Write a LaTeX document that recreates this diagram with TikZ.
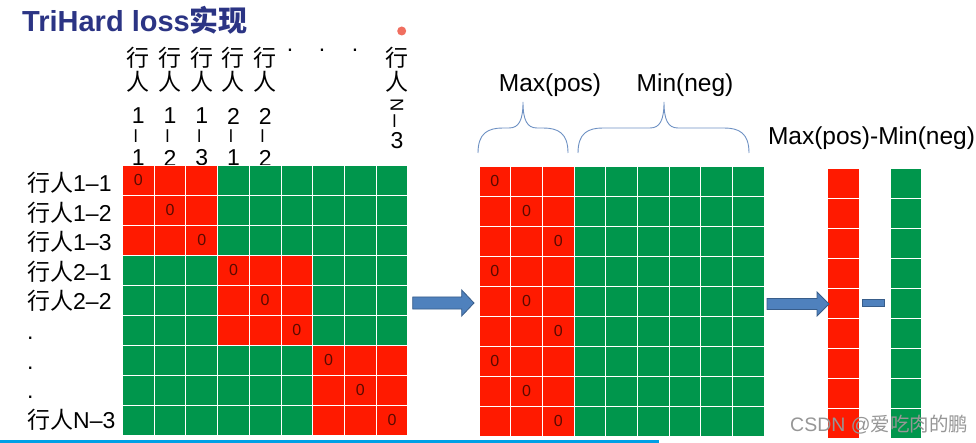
\documentclass[tikz,border=0pt]{standalone}
\usepackage{fontspec}
\setmainfont{Liberation Sans}
\newfontfamily\cjk{Noto Sans CJK SC}
\usetikzlibrary{matrix,backgrounds,positioning}

\definecolor{cellred}{RGB}{255,26,0}
\definecolor{cellgreen}{RGB}{0,150,76}
\definecolor{zerotxt}{RGB}{90,10,0}
\definecolor{titleblue}{RGB}{43,52,132}
\definecolor{arrowblue}{RGB}{79,129,189}
\definecolor{arrowedge}{RGB}{56,93,138}
\definecolor{bracecol}{RGB}{110,145,195}
\definecolor{dotred}{RGB}{240,110,95}
\definecolor{rulecyan}{RGB}{0,160,230}
\definecolor{markgray}{RGB}{150,150,150}

\begin{document}
\begin{tikzpicture}[x=1pt,y=-1pt,
  cellbox/.style={draw=white,line width=1pt,fill=cellgreen,anchor=center,
    minimum width=31.7pt,minimum height=30pt,inner sep=0pt,outer sep=0pt,
    text=zerotxt,font=\fontsize{16}{19}\selectfont},
  posc/.style={fill=cellred},
  cellgrid/.style={matrix of nodes,nodes in empty cells,column sep=-1pt,
    row sep=-1pt,inner sep=0pt,outer sep=0pt,anchor=north west,nodes={cellbox}},
  rowlab/.style={anchor=base west,inner sep=0pt,font=\fontsize{23}{27}\selectfont},
  collab/.style={inner sep=0pt,font=\fontsize{23}{27}\selectfont},
  headtxt/.style={anchor=base,inner sep=0pt,font=\fontsize{24.5}{29}\selectfont},
  blockarrow/.style={fill=arrowblue,draw=arrowedge,line width=0.8pt},
  curly/.style={draw=bracecol,line width=0.9pt}]
\useasboundingbox (0,0) rectangle (976,443);

\node (title) [anchor=base west,inner sep=0pt,text=titleblue,
  font=\fontsize{29}{33}\selectfont\bfseries] at (22,31.7) {TriHard loss{\cjk 实现}};
\fill[dotred] (401.7,31) circle (4.5);

% pairwise distance matrix
\matrix (A) [cellgrid] at (122,164.5)
{
 |[posc]|0 & |[posc]| & |[posc]| & & & & & & \\
 |[posc]| & |[posc]|0 & |[posc]| & & & & & & \\
 |[posc]| & |[posc]| & |[posc]|0 & & & & & & \\
 & & & |[posc]|0 & |[posc]| & |[posc]| & & & \\
 & & & |[posc]| & |[posc]|0 & |[posc]| & & & \\
 & & & |[posc]| & |[posc]| & |[posc]|0 & & & \\
 & & & & & & |[posc]|0 & |[posc]| & |[posc]| \\
 & & & & & & |[posc]| & |[posc]|0 & |[posc]| \\
 & & & & & & |[posc]| & |[posc]| & |[posc]|0 \\
};

\begin{scope}[on background layer]
\foreach \j/\a/\b in {1/1/1,2/1/2,3/1/3,4/2/1,5/2/2}{
  \node (t\j) [collab] at (A-1-\j |- 0,58) {\cjk 行};
  \node (p\j) [collab] at (A-1-\j |- 0,82) {\cjk 人};
  \node (g\j) [collab] at (A-1-\j |- 0,116) {\a};
  \node (d\j) [collab,rotate=90] at (A-1-\j |- 0,136) {--};
  \node (m\j) [collab] at (A-1-\j |- 0,158) {\b};
}
\node (t9) [collab,xshift=5pt] at (A-1-9 |- 0,58) {\cjk 行};
\node (p9) [collab,xshift=5pt] at (A-1-9 |- 0,82) {\cjk 人};
\node (g9) [collab,xshift=5pt,rotate=-90,scale=0.8] at (A-1-9 |- 0,105) {N};
\node (d9) [collab,xshift=5pt,rotate=90] at (A-1-9 |- 0,121) {--};
\node (m9) [collab,xshift=5pt] at (A-1-9 |- 0,141) {3};
\end{scope}
\foreach \k/\x in {1/290,2/322,3/355}
  \node (e\k) [collab,anchor=base] at (\x,51.5) {.};

\foreach \i/\t in {1/{\cjk 行人}1--1,2/{\cjk 行人}1--2,3/{\cjk 行人}1--3,
                   4/{\cjk 行人}2--1,5/{\cjk 行人}2--2,6/.,7/.,8/.,9/{\cjk 行人}N--3}
  \node (r\i) [rowlab] at (27,{191.5+29.6*(\i-1)}) {\t};

% hardest positive / negative columns
\matrix (B) [cellgrid,
  column 1/.style={nodes={posc}},
  column 2/.style={nodes={posc}},
  column 3/.style={nodes={posc}}] at (478.5,165.5)
{
 0 & & & & & & & & \\
 & 0 & & & & & & & \\
 & & 0 & & & & & & \\
 0 & & & & & & & & \\
 & 0 & & & & & & & \\
 & & 0 & & & & & & \\
 0 & & & & & & & & \\
 & 0 & & & & & & & \\
 & & 0 & & & & & & \\
};

\draw[curly] (478,153) .. controls (478,133) and (488,128) .. (503,128) -- (509,128)
  .. controls (519,128) and (523,120) .. (523,102)
  .. controls (523,120) and (527,128) .. (537,128) -- (543,128)
  .. controls (558,128) and (568,133) .. (568,153);
\draw[curly] (578,153) .. controls (578,133) and (588,128) .. (603,128) -- (650,128)
  .. controls (660,128) and (664,120) .. (664,102)
  .. controls (664,120) and (668,128) .. (678,128) -- (724,128)
  .. controls (739,128) and (749,133) .. (749,153);
\node (mx) [headtxt] at (550,92) {Max(pos)};
\node (mn) [headtxt] at (685,92) {Min(neg)};

\matrix (C) [cellgrid,nodes={posc,minimum width=31.3pt}] at (827.2,168)
{
 \\ \\ \\ \\ \\ \\ \\ \\ \\
};
\matrix (D) [cellgrid,nodes={minimum width=31pt}] at (890.2,168)
{
 \\ \\ \\ \\ \\ \\ \\ \\ \\
};
\node (dif) [headtxt] at (871.5,145) {Max(pos)-Min(neg)};

\draw[blockarrow] (412.7,297) -- (461.7,297) -- (461.7,290) -- (474,303)
  -- (461.7,316) -- (461.7,309) -- (412.7,309) -- cycle;
\draw[blockarrow] (767,298.5) -- (817,298.5) -- (817,292) -- (829,304)
  -- (817,316) -- (817,309.5) -- (767,309.5) -- cycle;
\draw[blockarrow] (862,299) rectangle (884,306.5);

\node (mark) [anchor=base west,inner sep=0pt,text=markgray,
  font=\fontsize{19.5}{23}\selectfont] at (790,431.5) {CSDN @{\cjk 爱吃肉的鹏}};
\fill[rulecyan] (0,440) rectangle (659,443);
\end{tikzpicture}
\end{document}
